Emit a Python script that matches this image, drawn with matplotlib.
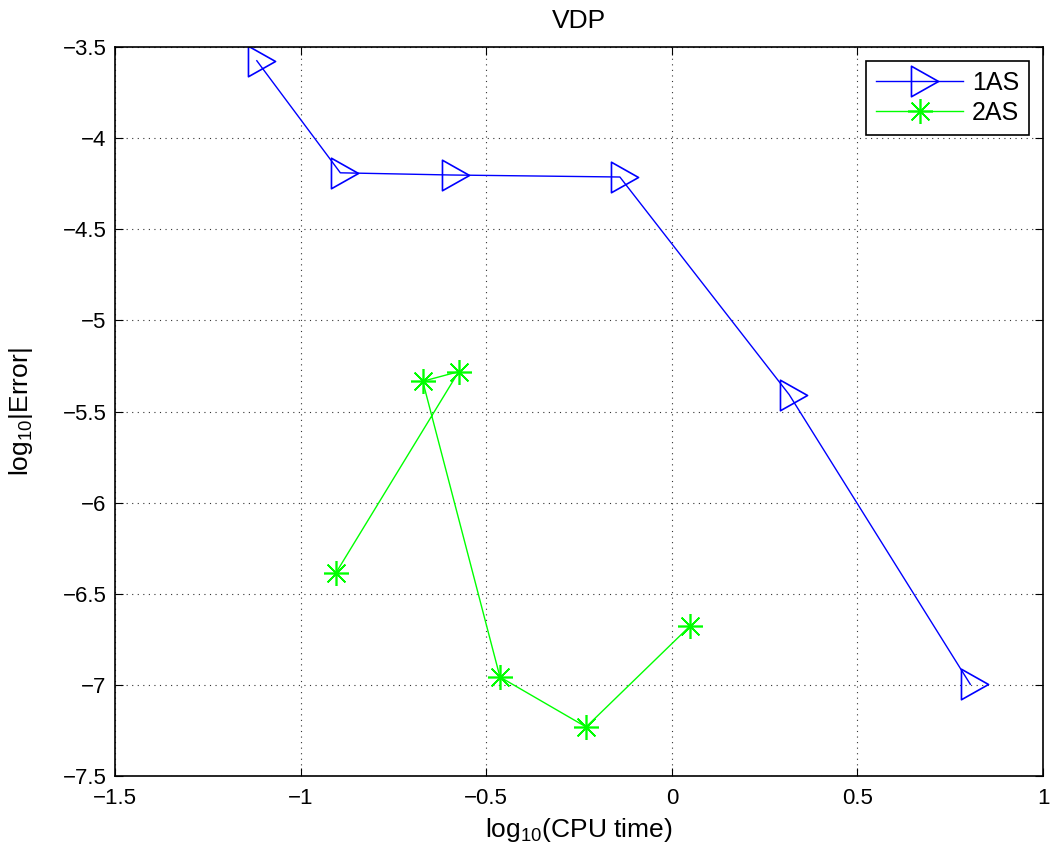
import matplotlib.pyplot as plt
from matplotlib.path import Path

plt.rcParams['font.family'] = ['Liberation Sans', 'DejaVu Sans']
plt.rcParams['mathtext.fontset'] = 'custom'
plt.rcParams['mathtext.rm'] = 'Liberation Sans'

# log10(CPU time) vs log10|Error|
x_1as = [-1.118, -0.893, -0.595, -0.140, 0.316, 0.804]
y_1as = [-3.575, -4.190, -4.202, -4.213, -5.407, -6.997]

x_2as = [-0.905, -0.574, -0.671, -0.463, -0.231, 0.049]
y_2as = [-6.386, -5.281, -5.334, -6.957, -7.231, -6.677]

xticks = [-1.5, -1, -0.5, 0, 0.5, 1]
yticks = [-7.5, -7, -6.5, -6, -5.5, -5, -4.5, -4, -3.5]

# matlab style '>' : point sits at the centroid, not the box centre
tri = Path([(-1, 1.69), (-1, -1.69), (2, 0), (-1, 1.69)],
           [Path.MOVETO, Path.LINETO, Path.LINETO, Path.CLOSEPOLY])

fig = plt.figure(figsize=(10.61, 8.56), dpi=100)
ax = fig.add_axes([0.1084, 0.0935, 0.8747, 0.8515])

ax.plot(x_1as, y_1as, color='#0000ff', lw=1, marker=tri, ms=26,
        mfc='none', mec='#0000ff', mew=1.2, label='1AS')
ax.plot(x_2as, y_2as, color='#00ff00', lw=1, marker=(8, 2, 0), ms=18,
        mec='#00ff00', mew=1.2, label='2AS')

ax.set_xlim(-1.5, 1)
ax.set_ylim(-7.5, -3.5)
ax.set_xticks(xticks)
ax.set_yticks(yticks)
ax.set_xticklabels(['\u22121.5', '\u22121', '\u22120.5', '0', '0.5', '1'])
ax.set_yticklabels(['\u22127.5', '\u22127', '\u22126.5', '\u22126', '\u22125.5',
                    '\u22125', '\u22124.5', '\u22124', '\u22123.5'])
ax.tick_params(direction='in', length=6, labelsize=16, top=True, right=True)
ax.tick_params(axis='x', pad=9)
ax.tick_params(axis='y', pad=6)
ax.grid(True, linestyle=(0, (1, 4)), color='#333333', lw=0.8)
for s in ax.spines.values():
    s.set_linewidth(1.2)

ax.set_xlabel('log$_{10}$(CPU time)', fontsize=19, labelpad=5)
ax.set_ylabel('log$_{10}$|Error|', fontsize=19, labelpad=20)
ax.set_title('VDP', fontsize=19, pad=14)

leg = ax.legend(loc='upper right', fontsize=18, fancybox=False,
                edgecolor='black', framealpha=1, borderaxespad=0.55,
                handlelength=3.5, handletextpad=0.35, borderpad=0.4,
                labelspacing=0.25)
leg.get_frame().set_linewidth(1.2)

plt.savefig('out.png', dpi=100)
